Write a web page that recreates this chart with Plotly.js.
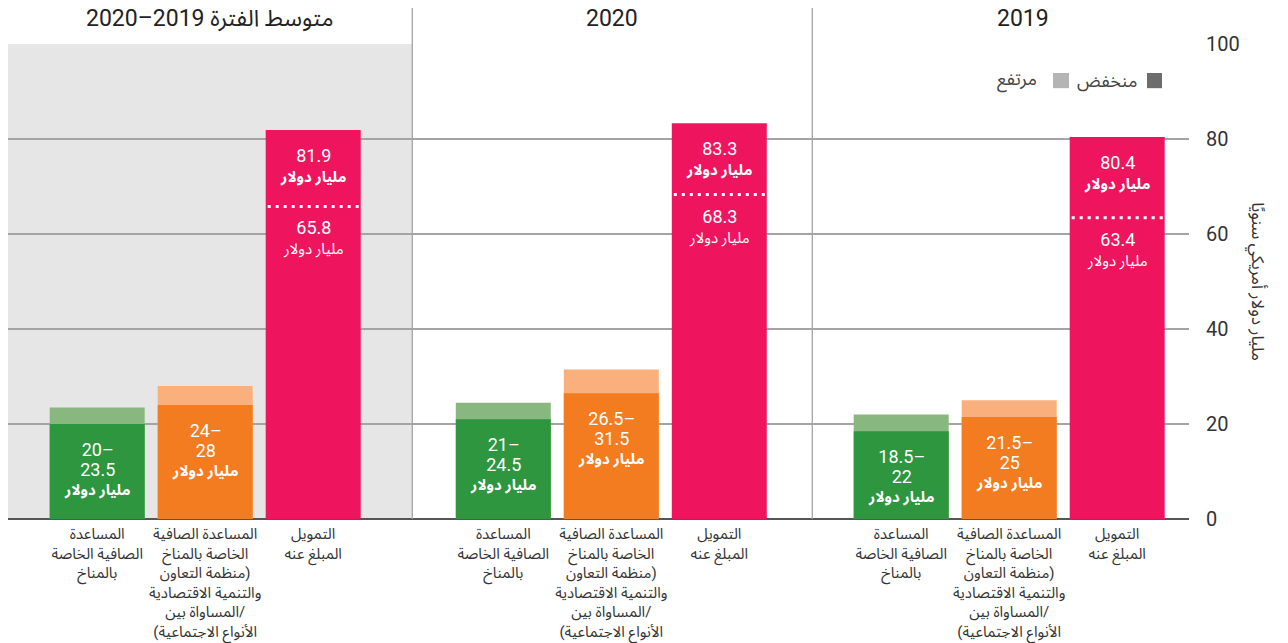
<!DOCTYPE html>
<html>
<head>
<meta charset="utf-8">
<script src="https://cdn.plot.ly/plotly-3.0.1.min.js"></script>
<style>html,body{margin:0;padding:0;background:#fff;}#chart{width:1288px;height:643px;}</style>
</head>
<body>
<div id="chart"></div>
<script>
// ---------- DATA (panels left to right) ----------
const periodTitles = ['متوسط الفترة 2019–2020', '2020', '2019'];
const greenLow   = [20, 21, 18.5];
const greenHigh  = [23.5, 24.5, 22];
const orangeLow  = [24, 26.5, 21.5];
const orangeHigh = [28, 31.5, 25];
const reportedHigh = [81.9, 83.3, 80.4];
const reportedLow  = [65.8, 68.3, 63.4];
const categoryLabels = [
  'المساعدة<br>الصافية الخاصة<br>بالمناخ',
  'المساعدة الصافية<br>الخاصة بالمناخ<br>(منظمة التعاون<br>والتنمية الاقتصادية<br>/المساواة بين<br>الأنواع الاجتماعية)',
  'التمويل<br>المبلغ عنه'
];
const unitText = 'مليار دولار';
const legendLow = 'منخفض';
const legendHigh = 'مرتفع';
const yTitle = 'مليار دولار أمريكي سنويًا';
const yTicks = [0, 20, 40, 60, 80, 100];

// ---------- LAYOUT CONSTANTS ----------
const FONT = "Roboto, 'Noto Sans Arabic', 'DejaVu Sans', sans-serif";
const panelMid = [197.2, 603.3, 1001.2];   // x of middle bar in each panel (axis units)
const barStep = 108;
const barW = 95;
const panelEdges = [404.3, 804.3];
const panelCenters = [202, 604, 1015];
const C = {
  green: '#2e963f', greenL: '#88b87f',
  orange: '#f47c20', orangeL: '#fab07c',
  pink: '#ee155e'
};
const rtl = s => s.split('<br>').map(l => '\u202B' + l + '\u202C').join('<br>');

const xs = (p, i) => panelMid[p] + (i - 1) * barStep;
const P = [0, 1, 2];

const xHigh = [], yHigh = [], cHigh = [];
const xLow = [], yLow = [], cLow = [];
P.forEach(p => {
  xHigh.push(xs(p, 0), xs(p, 1), xs(p, 2));
  yHigh.push(greenHigh[p], orangeHigh[p], reportedHigh[p]);
  cHigh.push(C.greenL, C.orangeL, C.pink);
  xLow.push(xs(p, 0), xs(p, 1));
  yLow.push(greenLow[p], orangeLow[p]);
  cLow.push(C.green, C.orange);
});

const traces = [
  {type: 'bar', x: xHigh, y: yHigh, width: barW, marker: {color: cHigh, line: {width: 0}}, showlegend: false, hoverinfo: 'skip'},
  {type: 'bar', x: xLow, y: yLow, width: barW, marker: {color: cLow, line: {width: 0}}, showlegend: false, hoverinfo: 'skip'}
];

const tickvals = [], ticktext = [];
P.forEach(p => { [0, 1, 2].forEach(i => { tickvals.push(xs(p, i)); ticktext.push(rtl(categoryLabels[i])); }); });

const num = s => '<span style="font-size:18px">' + s + '</span>';
const annotations = [];
const shapes = [];

// gray background for the average panel
shapes.push({type: 'rect', layer: 'below', xref: 'x', yref: 'y', x0: 0, x1: panelEdges[0], y0: 0, y1: 100, fillcolor: '#e6e6e6', line: {width: 0}});
// panel separators
panelEdges.forEach(e => shapes.push({type: 'line', xref: 'x', yref: 'paper', x0: e, x1: e, y0: 0, y1: 1.076, line: {color: '#a4a4a4', width: 1.3}, layer: 'above'}));

P.forEach(p => {
  // panel title
  annotations.push({xref: 'x', yref: 'paper', x: panelCenters[p], y: 1.054, text: periodTitles[p], showarrow: false,
    font: {family: FONT, size: 23, color: '#222'}, xanchor: 'center', yanchor: 'middle'});
  // green & orange range labels
  [[greenLow, greenHigh, 0], [orangeLow, orangeHigh, 1]].forEach(([lo, hi, i]) => {
    annotations.push({xref: 'x', yref: 'y', x: xs(p, i), y: lo[p], yanchor: 'top', yshift: -13, showarrow: false,
      text: num(lo[p] + '–') + '<br>' + num(String(hi[p])) + '<br><b>' + unitText + '</b>',
      font: {family: FONT, size: 15, color: '#fff'}});
  });
  // reported values
  annotations.push({xref: 'x', yref: 'y', x: xs(p, 2), y: reportedHigh[p], yanchor: 'top', yshift: -13, showarrow: false,
    text: num(String(reportedHigh[p])) + '<br><b>' + unitText + '</b>',
    font: {family: FONT, size: 15, color: '#fff'}});
  annotations.push({xref: 'x', yref: 'y', x: xs(p, 2), y: reportedLow[p], yanchor: 'top', yshift: -9, showarrow: false,
    text: num(String(reportedLow[p])) + '<br>' + unitText,
    font: {family: FONT, size: 15, color: '#fff'}});
  shapes.push({type: 'line', xref: 'x', yref: 'y', x0: xs(p, 2) - barW / 2 + 2, x1: xs(p, 2) + barW / 2, y0: reportedLow[p], y1: reportedLow[p],
    line: {color: '#fff', width: 3, dash: '3px,5px'}, layer: 'above'});
});

// legend
shapes.push({type: 'rect', xref: 'x', yref: 'y', x0: 1139, x1: 1154, y0: 90.7, y1: 93.9, fillcolor: '#6d6d6d', line: {width: 0}});
shapes.push({type: 'rect', xref: 'x', yref: 'y', x0: 1045, x1: 1061, y0: 90.7, y1: 93.9, fillcolor: '#b4b4b4', line: {width: 0}});
annotations.push({xref: 'x', yref: 'y', x: 1131, y: 92.3, xanchor: 'right', text: legendLow, showarrow: false, font: {family: FONT, size: 18, color: '#444'}});
annotations.push({xref: 'x', yref: 'y', x: 1031, y: 92.3, xanchor: 'right', text: legendHigh, showarrow: false, font: {family: FONT, size: 18, color: '#444'}});

// y-axis title (rotated clockwise)
annotations.push({xref: 'paper', yref: 'paper', x: 1.057, y: 0.5, textangle: 90, text: yTitle, showarrow: false,
  font: {family: FONT, size: 17, color: '#333'}, xanchor: 'center', yanchor: 'middle'});

const layout = {
  width: 1288, height: 643,
  margin: {l: 8, r: 99, t: 44, b: 124},
  paper_bgcolor: '#fff', plot_bgcolor: 'rgba(0,0,0,0)',
  barmode: 'overlay',
  hovermode: false,
  showlegend: false,
  font: {family: FONT, color: '#333'},
  xaxis: {range: [0, 1181], tickvals: tickvals, ticktext: ticktext, showgrid: false, zeroline: false, showline: false,
    ticks: '', tickangle: 0, ticklabelstandoff: 4, tickfont: {family: FONT, size: 15, color: '#333'}, fixedrange: true},
  yaxis: {range: [0, 100], side: 'right', tickvals: yTicks, showgrid: true, gridcolor: '#a4a4a4', gridwidth: 1.3,
    zeroline: true, zerolinecolor: '#555', zerolinewidth: 2, showline: false, ticks: '', ticklabelstandoff: 16,
    tickfont: {family: FONT, size: 20, color: '#333'}, fixedrange: true},
  shapes: shapes,
  annotations: annotations
};

Plotly.newPlot('chart', traces, layout, {displayModeBar: false, staticPlot: true});
</script>
</body>
</html>
